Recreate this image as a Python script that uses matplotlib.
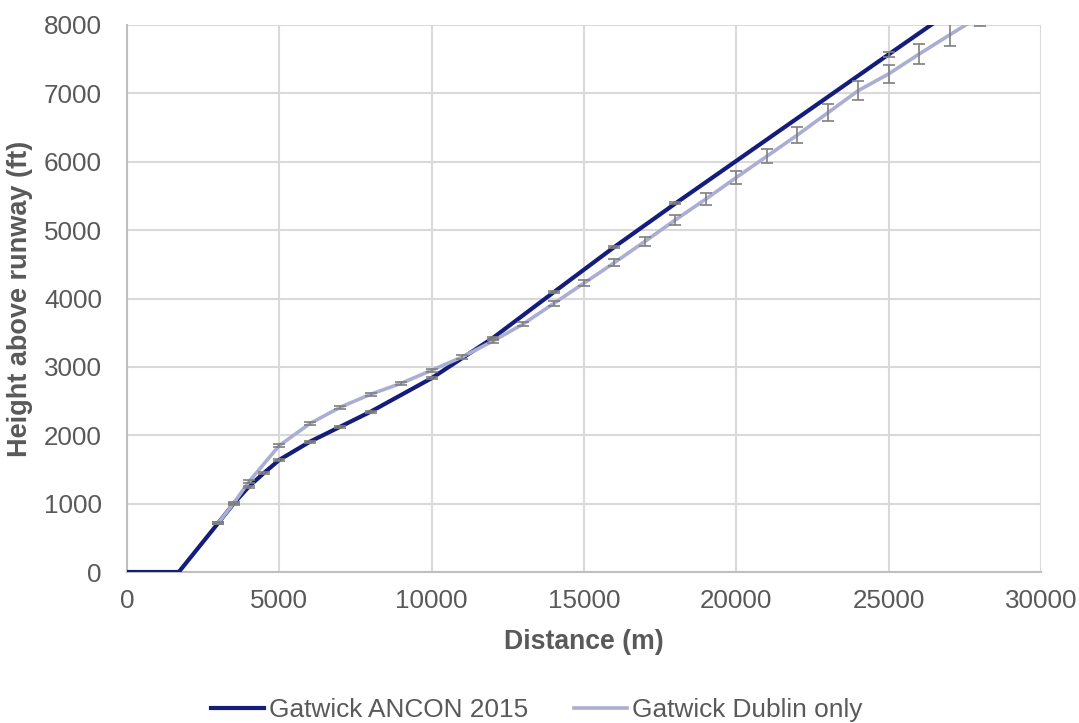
import numpy as np
import matplotlib
matplotlib.use("Agg")
import matplotlib.pyplot as plt
from matplotlib.lines import Line2D

plt.rcParams['font.family'] = ['Liberation Sans', 'DejaVu Sans']

# Departure profiles: distance from brake release (m) vs height above runway (ft)
ancon_dist = [0, 1700, 3000, 3500, 4000, 4500, 5000, 6000, 7000, 8000,
              10000, 12000, 14000, 16000, 18000, 25000, 27000]
ancon_height = [0, 0, 720, 1000, 1250, 1450, 1640, 1905, 2125, 2345,
                2835, 3420, 4090, 4755, 5390, 7570, 8190]
ancon_err = [0, 0, 15, 15, 15, 15, 15, 15, 15, 15,
             15, 15, 15, 15, 15, 40, 40]

dublin_dist = [3000, 3500, 4000, 5000, 6000, 7000, 8000, 9000, 10000,
               11000, 12000, 13000, 14000, 15000, 16000, 17000, 18000,
               19000, 20000, 21000, 22000, 23000, 24000, 25000, 26000,
               27000, 28000]
dublin_height = [720, 1005, 1320, 1850, 2170, 2410, 2600, 2760, 2950,
                 3145, 3375, 3625, 3925, 4225, 4525, 4835, 5150,
                 5455, 5770, 6080, 6390, 6715, 7040, 7285, 7575,
                 7855, 8130]
dublin_err = [15, 15, 20, 20, 20, 20, 20, 20, 25,
              25, 25, 30, 40, 45, 55, 68, 75,
              90, 100, 105, 120, 125, 135, 135, 150,
              155, 140]

series_names = ["Gatwick ANCON 2015", "Gatwick Dublin only"]
x_ticks = [0, 5000, 10000, 15000, 20000, 25000, 30000]
y_ticks = [0, 1000, 2000, 3000, 4000, 5000, 6000, 7000, 8000]

dark = '#141c7c'
light = '#abaed3'
err_col = '#7f7f7f'
text_col = '#595959'
fs = 18.7

fig = plt.figure(figsize=(10.79, 7.23), dpi=100)
ax = fig.add_axes([127 / 1079, 151 / 723, 914 / 1079, 547 / 723])

ax.plot(ancon_dist, ancon_height, color=dark, lw=3.0, zorder=3,
        solid_joinstyle='round')
ax.plot(dublin_dist, dublin_height, color=light, lw=2.6, zorder=4,
        solid_joinstyle='round')

a_d = np.array(ancon_dist)
a_h = np.array(ancon_height)
a_e = np.array(ancon_err)
m = a_e > 0
ax.errorbar(a_d[m], a_h[m], yerr=a_e[m], fmt='none', ecolor=err_col,
            elinewidth=1.2, capsize=4.3, capthick=1.2, zorder=5)
ax.errorbar(dublin_dist, dublin_height, yerr=dublin_err, fmt='none',
            ecolor=err_col, elinewidth=1.2, capsize=4.3, capthick=1.2,
            zorder=5)

ax.set_xlim(0, 30000)
ax.set_ylim(0, 8000)
ax.set_xticks(x_ticks)
ax.set_yticks(y_ticks)
ax.grid(True, color='#d9d9d9', lw=1.5, zorder=0)
ax.set_axisbelow(True)
for s in ['top', 'right']:
    ax.spines[s].set_visible(False)
for s in ['left', 'bottom']:
    ax.spines[s].set_color('#bfbfbf')
    ax.spines[s].set_linewidth(1.5)
ax.tick_params(axis='both', length=0, labelsize=fs, labelcolor=text_col)
ax.tick_params(axis='x', pad=12)
ax.tick_params(axis='y', pad=18)

ax.set_xlabel("Distance (m)", fontsize=19.2, fontweight='bold', color=text_col)
ax.set_ylabel("Height above runway (ft)", fontsize=19.5, fontweight='bold',
              color=text_col)
ax.xaxis.set_label_coords(0.5, (572 - 642) / 547)
ax.xaxis.label.set_va('center')
ax.yaxis.set_label_coords((20 - 127) / 914, 0.5)
ax.yaxis.label.set_va('center')

handles = [Line2D([], [], color=dark, lw=3.0),
           Line2D([], [], color=light, lw=2.6)]
leg = fig.legend(handles, series_names, loc='center',
                 bbox_to_anchor=(0.5 * (212 + 862) / 1079, 1 - 710 / 723),
                 ncol=2, frameon=False, fontsize=18.9, handlelength=2.0,
                 handletextpad=0.2, columnspacing=1.75, borderpad=0)
for t in leg.get_texts():
    t.set_color(text_col)

fig.savefig("out.png", dpi=100)
